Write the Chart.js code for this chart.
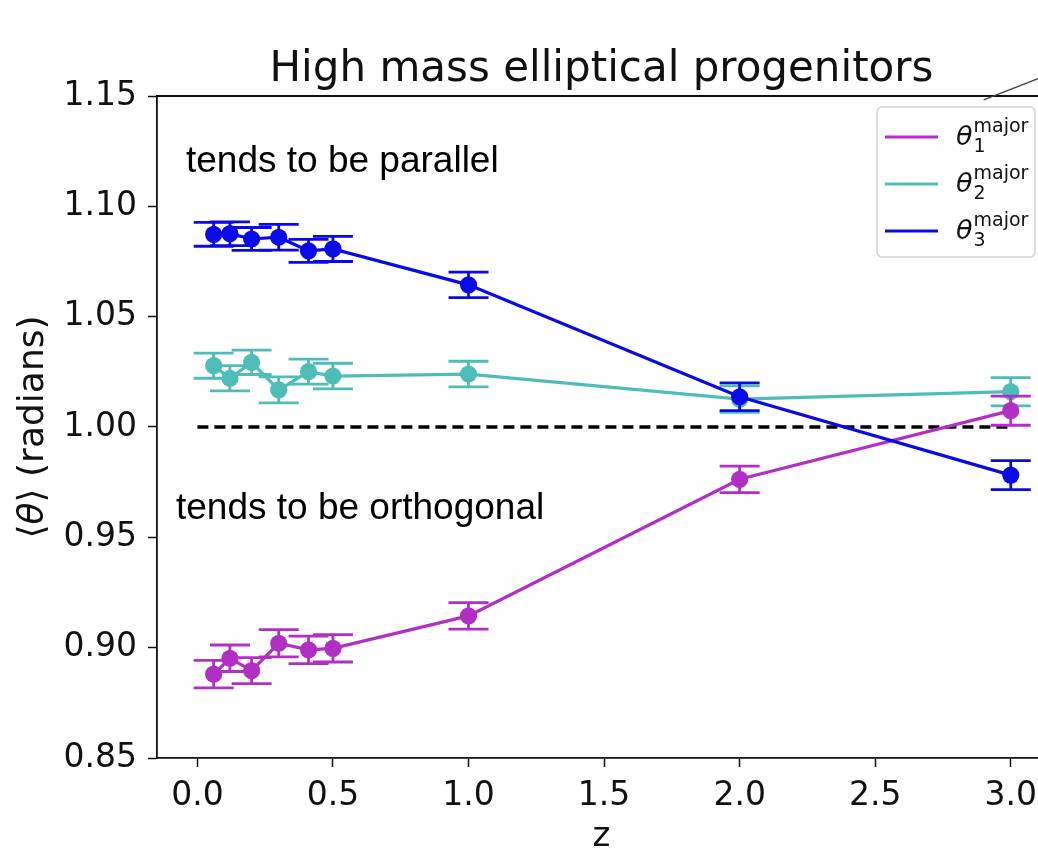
<!DOCTYPE html>
<html>
<head>
<meta charset="utf-8">
<script src="https://cdn.jsdelivr.net/npm/chart.js@4.4.0/dist/chart.umd.min.js"></script>
<style>
  html, body { margin: 0; padding: 0; background: #fff; overflow: hidden; }
  #wrap { width: 1100px; height: 852px; }
</style>
</head>
<body>
<div id="wrap"><canvas id="angleChart" width="1100" height="852"></canvas></div>
<script>
// redshift snapshots
const redshifts = [0.06, 0.12, 0.2, 0.3, 0.41, 0.5, 1.0, 2.0, 3.0];

// mean angle to each major axis and its error
const theta1 = [0.8880, 0.8952, 0.8896, 0.9020, 0.8990, 0.8997, 0.9144, 0.9763, 1.0074];
const theta1Err = [0.0062, 0.0060, 0.0059, 0.0062, 0.0062, 0.0062, 0.0060, 0.0060, 0.0066];
const theta2 = [1.0278, 1.0221, 1.0293, 1.0168, 1.0251, 1.0231, 1.0240, 1.0126, 1.0160];
const theta2Err = [0.0057, 0.0057, 0.0055, 0.0059, 0.0057, 0.0058, 0.0058, 0.0060, 0.0064];
const theta3 = [1.0873, 1.0876, 1.0852, 1.0860, 1.0798, 1.0807, 1.0644, 1.0137, 0.9782];
const theta3Err = [0.0054, 0.0054, 0.0052, 0.0058, 0.0052, 0.0057, 0.0058, 0.0063, 0.0066];

// random-orientation reference
const refZ = [0, 3];
const refTheta = [1.0, 1.0];

const xTicks = [0.0, 0.5, 1.0, 1.5, 2.0, 2.5, 3.0];
const yTicks = [0.85, 0.90, 0.95, 1.00, 1.05, 1.10, 1.15];

const MAGENTA = '#b22fc6';
const TEAL = '#4ebdb8';
const BLUE = '#0a0ae8';

const pts = (xs, ys) => xs.map((x, i) => ({ x: x, y: ys[i] }));

const tickFont = { family: 'DejaVu Sans', size: 33 };

// vertical error bars with wide caps, drawn under each series
const errorBars = {
    id: 'errorBars',
    beforeDatasetDraw(chart, args) {
        const ds = chart.data.datasets[args.index];
        if (!ds.errors) return;
        const ctx = chart.ctx;
        const x = chart.scales.x, y = chart.scales.y;
        ctx.save();
        ctx.strokeStyle = ds.borderColor;
        ctx.lineWidth = 2.8;
        ds.data.forEach((p, i) => {
            const px = x.getPixelForValue(p.x);
            const lo = y.getPixelForValue(p.y - ds.errors[i]);
            const hi = y.getPixelForValue(p.y + ds.errors[i]);
            ctx.beginPath();
            ctx.moveTo(px, lo); ctx.lineTo(px, hi);
            ctx.moveTo(px - 20, lo); ctx.lineTo(px + 20, lo);
            ctx.moveTo(px - 20, hi); ctx.lineTo(px + 20, hi);
            ctx.stroke();
        });
        ctx.restore();
    }
};

// title, axis labels, notes, legend and top spine
const decorations = {
    id: 'decorations',
    afterDraw(chart) {
        const ctx = chart.ctx;
        const area = chart.chartArea;
        const x = chart.scales.x, y = chart.scales.y;
        const midX = (area.left + area.right) / 2;

        ctx.save();
        // top spine
        ctx.strokeStyle = '#111';
        ctx.lineWidth = 1.8;
        ctx.beginPath();
        ctx.moveTo(area.left, area.top);
        ctx.lineTo(area.right, area.top);
        ctx.stroke();

        // pointer line leaving the top right corner
        ctx.strokeStyle = '#444';
        ctx.lineWidth = 1.4;
        ctx.beginPath();
        ctx.moveTo(x.getPixelForValue(2.9), y.getPixelForValue(1.1482));
        ctx.lineTo(x.getPixelForValue(3.2), y.getPixelForValue(1.1626));
        ctx.stroke();

        ctx.fillStyle = '#111';
        ctx.textBaseline = 'alphabetic';

        // title
        ctx.font = '42px "DejaVu Sans"';
        ctx.textAlign = 'center';
        ctx.fillText('High mass elliptical progenitors', midX, 81);

        // x label
        ctx.font = '34px "DejaVu Sans"';
        ctx.fillText('z', midX, 846);

        // y label: ⟨θ⟩ (radians)
        ctx.save();
        ctx.translate(43, (area.top + area.bottom) / 2);
        ctx.rotate(-Math.PI / 2);
        const parts = [
            ['⟨', '36px "DejaVu Sans"'],
            ['θ', 'oblique 36px "DejaVu Sans"'],
            ['⟩ (radians)', '36px "DejaVu Sans"']
        ];
        let total = 0;
        parts.forEach(p => { ctx.font = p[1]; total += ctx.measureText(p[0]).width; });
        let cx = -total / 2;
        ctx.textAlign = 'left';
        parts.forEach(p => {
            ctx.font = p[1];
            ctx.fillText(p[0], cx, 0);
            cx += ctx.measureText(p[0]).width;
        });
        ctx.restore();

        // notes
        ctx.textAlign = 'left';
        ctx.font = '37px "Liberation Sans"';
        ctx.fillStyle = '#000';
        ctx.fillText('tends to be parallel', 186, 172);
        ctx.fillText('tends to be orthogonal', 176, 519);

        // legend
        const bx = area.right - 169, by = area.top + 11, bw = 158, bh = 150;
        ctx.beginPath();
        ctx.roundRect(bx, by, bw, bh, 5);
        ctx.fillStyle = 'rgba(255,255,255,0.85)';
        ctx.fill();
        ctx.strokeStyle = '#d2d2d2';
        ctx.lineWidth = 1.5;
        ctx.stroke();

        const items = [[MAGENTA, '1'], [TEAL, '2'], [BLUE, '3']];
        items.forEach((it, i) => {
            const rowY = by + 30 + i * 47;
            ctx.strokeStyle = it[0];
            ctx.lineWidth = 3.2;
            ctx.beginPath();
            ctx.moveTo(bx + 8, rowY);
            ctx.lineTo(bx + 61, rowY);
            ctx.stroke();

            ctx.fillStyle = '#111';
            ctx.font = 'oblique 27px "DejaVu Sans"';
            ctx.fillText('θ', bx + 79, rowY + 8);
            const tw = ctx.measureText('θ').width;
            ctx.font = '19px "DejaVu Sans"';
            ctx.fillText(it[1], bx + 79 + tw + 1, rowY + 15);
            ctx.fillText('major', bx + 79 + tw + 1, rowY - 5);
        });
        ctx.restore();
    }
};

const series = (label, data, errs, color, order) => ({
    label: label,
    data: pts(redshifts, data),
    errors: errs,
    borderColor: color,
    backgroundColor: color,
    pointBackgroundColor: color,
    pointBorderWidth: 0,
    pointRadius: 8.6,
    pointHoverRadius: 8.6,
    borderWidth: 3.2,
    tension: 0,
    order: order
});

new Chart(document.getElementById('angleChart'), {
    type: 'line',
    data: {
        datasets: [
            series('θ1 major', theta1, theta1Err, MAGENTA, 1),
            series('θ2 major', theta2, theta2Err, TEAL, 2),
            series('θ3 major', theta3, theta3Err, BLUE, 0),
            {
                label: 'random',
                data: pts(refZ, refTheta),
                borderColor: '#000',
                borderWidth: 3.5,
                borderDash: [11, 6],
                pointRadius: 0,
                order: 3
            }
        ]
    },
    options: {
        responsive: false,
        animation: false,
        layout: { padding: { top: 96, right: 54, left: 0, bottom: 0 } },
        plugins: {
            legend: { display: false },
            title: { display: false },
            tooltip: { enabled: false }
        },
        scales: {
            x: {
                type: 'linear',
                min: -0.149,
                max: 3.13,
                afterBuildTicks: s => { s.ticks = xTicks.map(v => ({ value: v })); },
                afterFit: s => { s.height = 94; },
                ticks: {
                    font: tickFont,
                    color: '#111',
                    padding: 10,
                    maxRotation: 0,
                    autoSkip: false,
                    callback: v => v.toFixed(1)
                },
                grid: { drawOnChartArea: false, drawTicks: true, tickLength: 9, tickWidth: 1.5, tickColor: '#111' },
                border: { display: true, color: '#111', width: 1.8 }
            },
            y: {
                min: 0.85,
                max: 1.15,
                afterBuildTicks: s => { s.ticks = yTicks.map(v => ({ value: v })); },
                afterFit: s => { s.width = 157; },
                ticks: {
                    font: tickFont,
                    color: '#111',
                    padding: 11,
                    autoSkip: false,
                    callback: v => v.toFixed(2)
                },
                grid: { drawOnChartArea: false, drawTicks: true, tickLength: 9, tickWidth: 1.5, tickColor: '#111' },
                border: { display: true, color: '#111', width: 1.8 }
            }
        }
    },
    plugins: [errorBars, decorations]
});
</script>
</body>
</html>
